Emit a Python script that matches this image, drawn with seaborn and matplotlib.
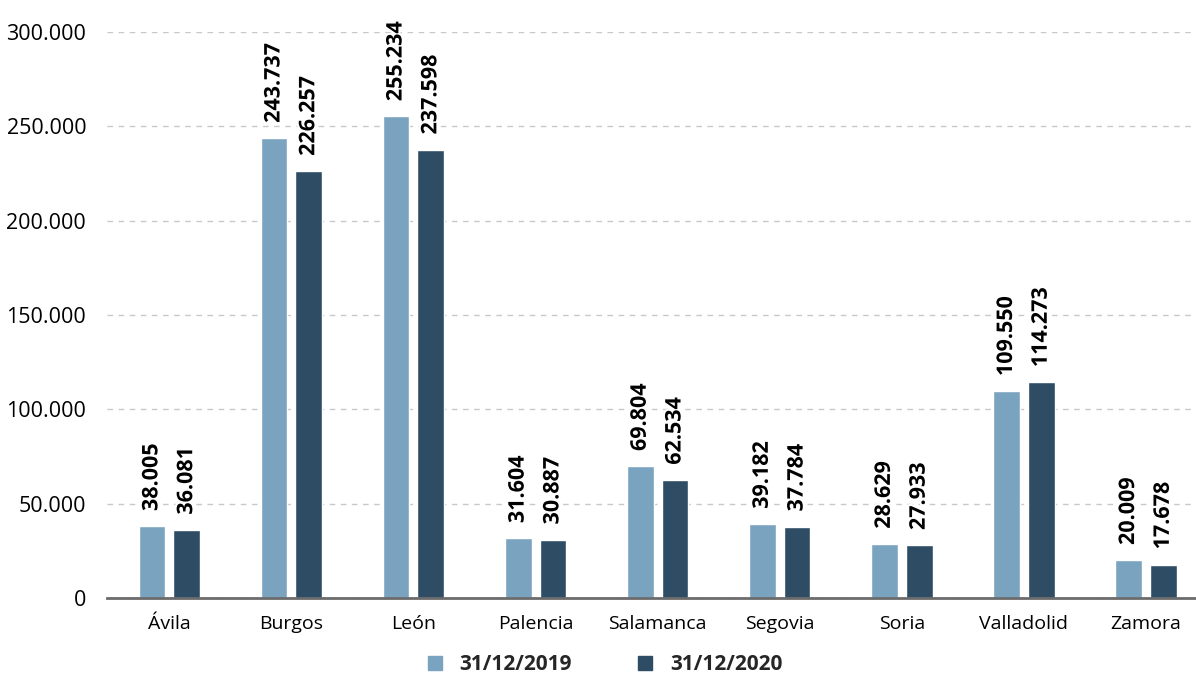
import matplotlib
matplotlib.use("Agg")
import matplotlib.pyplot as plt
import matplotlib.patheffects as pe
import matplotlib.ticker as mticker
import seaborn as sns
import pandas as pd

provincias = ["Ávila", "Burgos", "León", "Palencia", "Salamanca",
              "Segovia", "Soria", "Valladolid", "Zamora"]
v2019 = [38005, 243737, 255234, 31604, 69804, 39182, 28629, 109550, 20009]
v2020 = [36081, 226257, 237598, 30887, 62534, 37784, 27933, 114273, 17678]
series = ["31/12/2019", "31/12/2020"]

df = pd.DataFrame({
    "provincia": provincias * 2,
    "valor": v2019 + v2020,
    "fecha": [series[0]] * len(v2019) + [series[1]] * len(v2020),
})

def miles(x):
    return f"{int(round(x)):,}".replace(",", ".")

sns.set_style("white")
plt.rcParams["font.family"] = ["Open Sans", "DejaVu Sans"]

fig = plt.figure(figsize=(11.96, 6.77), dpi=100)
ax = fig.add_axes([0.0895, 0.1167, 0.9105, 0.836])

colores = {series[0]: "#7aa3bf", series[1]: "#2e4c64"}
sns.barplot(data=df, x="provincia", y="valor", hue="fecha", palette=colores,
            width=0.57, gap=0.23, saturation=1, ax=ax, legend=False)

for cont in ax.containers:
    txts = ax.bar_label(cont, labels=[miles(b.get_height()) for b in cont],
                        rotation=90, padding=11, fontsize=15.5,
                        fontweight="bold", color="black")
    for t in txts:
        t.set_path_effects([pe.withStroke(linewidth=3, foreground="white")])

ax.set_ylim(0, 300000)
ax.set_xlim(-0.51, 8.41)
ax.yaxis.set_major_locator(mticker.MultipleLocator(50000))
ax.yaxis.set_major_formatter(mticker.FuncFormatter(lambda x, p: miles(x)))
ax.grid(axis="y", color="#c8c8c8", linestyle=(0, (4, 4)), linewidth=1)
ax.set_axisbelow(True)
ax.set_xlabel("")
ax.set_ylabel("")
for s in ["left", "right", "top"]:
    ax.spines[s].set_visible(False)
ax.spines["bottom"].set_color("#6b6b6b")
ax.spines["bottom"].set_linewidth(2)
ax.tick_params(axis="y", length=0, labelsize=15.5, pad=15, labelcolor="black")
ax.tick_params(axis="x", length=0, labelsize=14, pad=12, labelcolor="black")

handles = [plt.Line2D([], [], marker="s", linestyle="", markersize=10,
                      color=colores[s], label=s) for s in series]
fig.legend(handles=handles, loc="lower center", ncol=2, frameon=False,
           bbox_to_anchor=(0.5, -0.025), prop={"size": 15, "weight": "bold"},
           handletextpad=0.2, columnspacing=2.5)

fig.savefig("out.png", dpi=100)
